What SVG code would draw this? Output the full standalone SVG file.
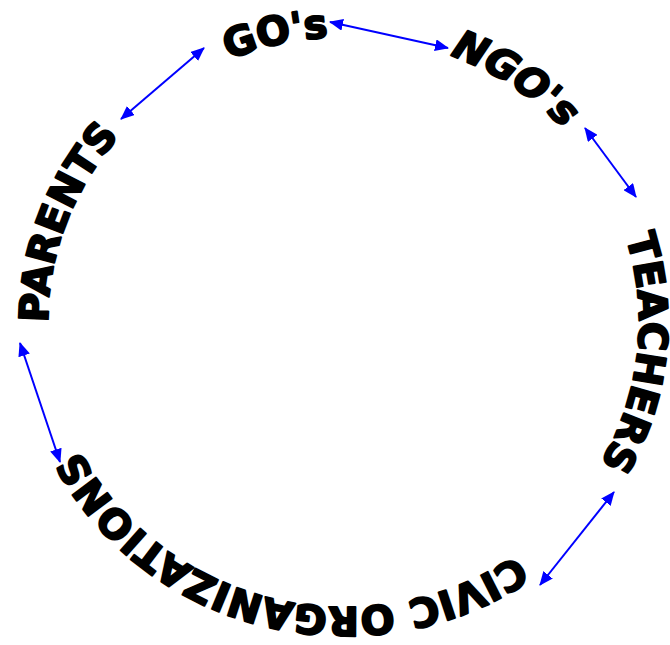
<svg xmlns="http://www.w3.org/2000/svg" xmlns:xlink="http://www.w3.org/1999/xlink" width="670" height="645" viewBox="0 0 670 645">
<style>
.lbl{font-family:"DejaVu Sans","Liberation Sans",sans-serif;font-weight:bold;font-size:40px;fill:#000;stroke:#000;stroke-width:2;stroke-linejoin:round}
.it{font-style:italic}
.con{stroke:#0000ff;stroke-width:2;fill:none;marker-start:url(#ah);marker-end:url(#ah)}
</style>
<defs>
<marker id="ah" viewBox="0 0 14 12" markerUnits="userSpaceOnUse" markerWidth="14" markerHeight="12" refX="13" refY="6" orient="auto-start-reverse">
<path d="M0,0 L14,6 L0,12 z" fill="#0000ff"/>
</marker>
<path id="pGO" d="M60.2,241.1 A297,285 0 0 1 560.4,125.8"/>
<path id="pNGO" d="M218.5,64.1 A297,285 0 0 1 641.0,345.9"/>
<path id="pTEA" d="M518.2,91.7 A294,285 0 0 1 464.1,582.6"/>
<path id="pCIV" d="M557.9,520.7 A297,285 0 0 1 59.2,399.6"/>
<path id="pPAR" d="M118.2,506.0 A297,285 0 0 1 292.4,41.5"/>
</defs>
<rect width="670" height="645" fill="#fff"/>
<g id="connectors">
<line class="con" x1="330" y1="22" x2="448" y2="48"/>
<line class="con" x1="585" y1="128" x2="636" y2="197"/>
<line class="con" x1="614" y1="492" x2="540" y2="585"/>
<line class="con" x1="20" y1="343" x2="60" y2="462"/>
<line class="con" x1="121" y1="119" x2="204" y2="48"/>
</g>
<g id="gos"><text class="lbl"><textPath xlink:href="#pGO" href="#pGO" startOffset="50%" text-anchor="middle">GO's</textPath></text></g>
<g id="ngos"><text class="lbl it"><textPath xlink:href="#pNGO" href="#pNGO" startOffset="50%" text-anchor="middle">NGO's</textPath></text></g>
<g id="teachers"><text class="lbl"><textPath xlink:href="#pTEA" href="#pTEA" startOffset="50%" text-anchor="middle">TEACHERS</textPath></text></g>
<g id="civic"><text class="lbl"><textPath xlink:href="#pCIV" href="#pCIV" startOffset="50%" text-anchor="middle">CIVIC ORGANIZATIONS</textPath></text></g>
<g id="parents"><text class="lbl"><textPath xlink:href="#pPAR" href="#pPAR" startOffset="50%" text-anchor="middle">PARENTS</textPath></text></g>
</svg>
